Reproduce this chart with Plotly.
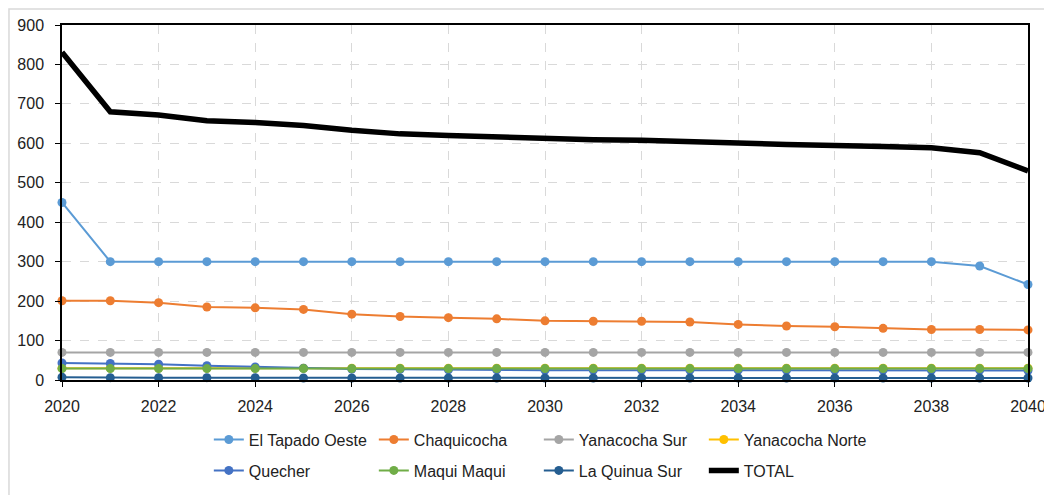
import plotly.graph_objects as go

years = list(range(2020, 2041))

el_tapado_oeste = [450, 300, 300, 300, 300, 300, 300, 300, 300, 300, 300,
                   300, 300, 300, 300, 300, 300, 300, 300, 289, 242]
chaquicocha = [201, 201, 196, 185, 183, 179, 167, 161, 158, 155, 150,
               149, 149, 147, 141, 137, 135, 131, 128, 128, 127]
yanacocha_sur = [70] * 21
# hidden behind Maqui Maqui in the picture
yanacocha_norte = [30, 30, 30, 30, 30, 30, 30, 30, 30, 30, 30,
                   30, 30, 30, 30, 30, 30, 30, 30, 30, 30]
quecher = [43, 42, 40, 36, 33, 30, 28, 27, 26, 26, 25,
           25, 25, 25, 25, 25, 25, 25, 25, 25, 24]
maqui_maqui = [29, 29, 29, 29, 29, 29, 29, 29, 29, 29, 29,
               29, 29, 29, 29, 29, 29, 29, 29, 29, 29]
la_quinua_sur = [7, 6, 6, 6, 6, 5, 5, 5, 5, 5, 5,
                 5, 5, 5, 5, 5, 5, 5, 5, 5, 5]
total = [831, 680, 672, 657, 653, 645, 633, 624, 620, 616, 610,
         609, 608, 606, 601, 597, 593, 592, 589, 576, 530]

series = [
    ("El Tapado Oeste", el_tapado_oeste, "#5B9BD5", "legend"),
    ("Chaquicocha", chaquicocha, "#ED7D31", "legend"),
    ("Yanacocha Sur", yanacocha_sur, "#A5A5A5", "legend"),
    ("Yanacocha Norte", yanacocha_norte, "#FFC000", "legend"),
    ("Quecher", quecher, "#4472C4", "legend2"),
    ("Maqui Maqui", maqui_maqui, "#70AD47", "legend2"),
    ("La Quinua Sur", la_quinua_sur, "#255E91", "legend2"),
]

FONT = "Liberation Sans, Arial, sans-serif"

fig = go.Figure()
for name, vals, color, leg in series:
    fig.add_trace(go.Scatter(
        x=years, y=vals, name=name, mode="lines+markers",
        line=dict(color=color, width=2),
        marker=dict(color=color, size=9),
        legend=leg, cliponaxis=False,
    ))

fig.add_trace(go.Scatter(
    x=years, y=total, name="TOTAL", mode="lines",
    line=dict(color="black", width=5.5),
    legend="legend2",
))

leg_style = dict(
    orientation="h", xanchor="left", yanchor="middle",
    entrywidth=120, entrywidthmode="pixels",
    font=dict(family=FONT, size=16, color="#222"),
    bgcolor="rgba(0,0,0,0)", tracegroupgap=0, itemwidth=30,
)

# page has an 8px body margin, so the figure is a bit smaller than the window
fig.update_layout(
    width=1044, height=487,
    margin=dict(l=54, r=24, t=17, b=115, autoexpand=False),
    paper_bgcolor="white", plot_bgcolor="white",
    font=dict(family=FONT, size=16, color="#222"),
    showlegend=True,
    legend=dict(x=0.152, y=-0.168, **leg_style),
    legend2=dict(x=0.152, y=-0.255, **leg_style),
    shapes=[dict(
        type="rect", xref="paper", yref="paper",
        x0=-0.0549, x1=1.08, y0=-0.4, y1=1.045,
        line=dict(color="#d9d9d9", width=1.5), layer="below",
    )],
)

fig.update_xaxes(
    range=[2020, 2040], dtick=2, tick0=2020, automargin=False,
    showline=True, linecolor="black", linewidth=1.5, mirror=True,
    ticks="outside", ticklen=5, tickcolor="black",
    showgrid=True, gridcolor="#d9d9d9", griddash="dash", gridwidth=1,
    zeroline=False, ticklabelstandoff=6,
)
fig.update_yaxes(
    range=[0, 900], dtick=100, automargin=False,
    showline=True, linecolor="black", linewidth=1.5, mirror=True,
    ticks="outside", ticklen=5, tickcolor="black",
    showgrid=True, gridcolor="#d9d9d9", griddash="dash", gridwidth=1,
    zeroline=False, ticklabelstandoff=8,
)

fig.write_html("out.html")
